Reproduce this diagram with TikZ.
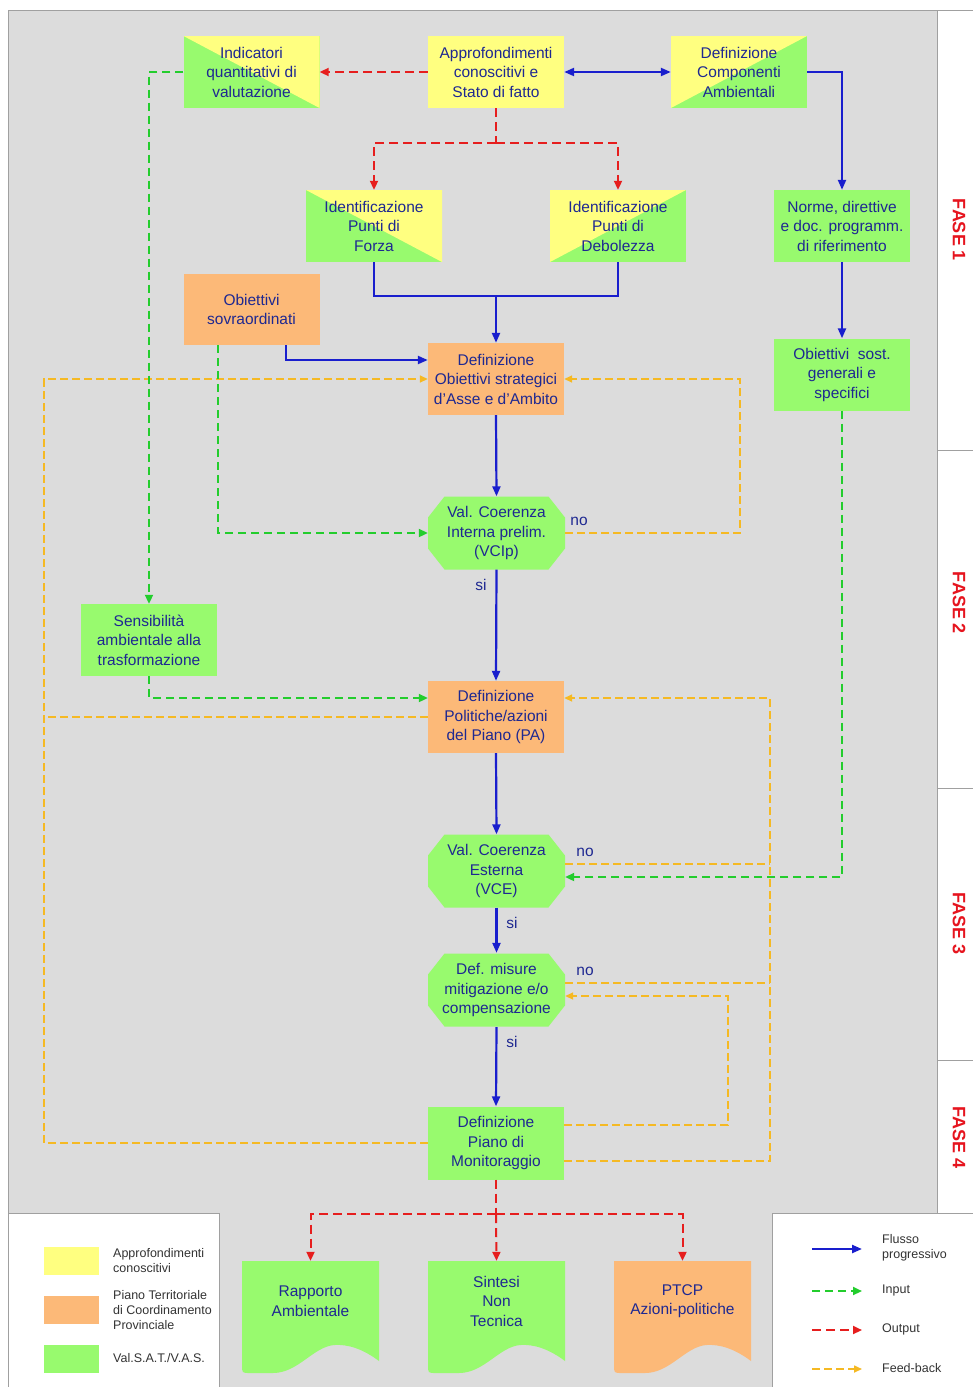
\documentclass[tikz,border=0pt]{standalone}
\usepackage{fontspec}
\setmainfont{Liberation Sans}
\usetikzlibrary{arrows.meta}
\definecolor{cyel}{RGB}{255,255,128}
\definecolor{cgrn}{RGB}{152,250,110}
\definecolor{corg}{RGB}{252,185,120}
\definecolor{cbg}{RGB}{220,220,220}
\definecolor{ctxt}{RGB}{30,40,145}
\definecolor{cblue}{RGB}{25,30,205}
\definecolor{cred}{RGB}{230,30,30}
\definecolor{cgreen}{RGB}{35,205,45}
\definecolor{cfeed}{RGB}{245,185,35}
\definecolor{cfase}{RGB}{230,20,30}
\definecolor{cline}{RGB}{160,160,160}
\newcommand\octshape[2]{\begin{scope}[shift={(#1,#2)}]\fill[cgrn] (-52,-36.5) -- (52,-36.5) -- (68.5,-15.5) -- (68.5,15.5) -- (52,36.5) -- (-52,36.5) -- (-68.5,15.5) -- (-68.5,-15.5) -- cycle;\end{scope}}
\newcommand\docshape[3]{\begin{scope}[shift={(#1,#2)}]\fill[#3] (0,0) -- (137,0) -- (137,100) .. controls (121,88) and (106,83) .. (92,84) .. controls (71,86) and (56,112) .. (31,112) -- (8,112) .. controls (0,112) .. (0,104) -- cycle;\end{scope}}
\tikzset{
  box/.style={rectangle, minimum width=136pt, minimum height=72pt, inner sep=0pt, align=center, font=\fontsize{15.5}{19.5}\selectfont, text=ctxt},
  ybox/.style={box, fill=cyel},
  gbox/.style={box, fill=cgrn},
  obox/.style={box, fill=corg},
  diagA/.style={box, fill=cgrn, path picture={\fill[cyel] (path picture bounding box.north west) -- (path picture bounding box.north east) -- (path picture bounding box.south east) -- cycle;}},
  diagB/.style={box, fill=cgrn, path picture={\fill[cyel] (path picture bounding box.south west) -- (path picture bounding box.north west) -- (path picture bounding box.north east) -- cycle;}},
  octo/.style={box, minimum width=137pt, minimum height=73pt},
  doc/.style={rectangle, minimum width=137pt, minimum height=112pt, inner sep=0pt},
  doctext/.style={align=center, inner sep=0pt, font=\fontsize{15.5}{19.5}\selectfont, text=ctxt},
  lbl/.style={inner sep=0pt, font=\fontsize{15.5}{18}\selectfont, text=ctxt},
  blu/.style={draw=cblue, line width=2.2pt, -{Triangle[length=10pt,width=8pt]}},
  rdd/.style={draw=cred, line width=2pt, dash pattern=on 9pt off 5pt},
  grd/.style={draw=cgreen, line width=2pt, dash pattern=on 8pt off 5pt},
  fbd/.style={draw=cfeed, line width=1.6pt, dash pattern=on 8pt off 4pt},
  rtip/.style={-{Triangle[length=9pt,width=8pt]}},
  ytip/.style={-{Triangle[length=8pt,width=7pt]}},
  fase/.style={rotate=-90, inner sep=0pt, text=cfase, font=\fontsize{18}{20}\selectfont\bfseries},
  sw/.style={rectangle, minimum width=55pt, minimum height=28pt, inner sep=0pt},
  lgt/.style={anchor=west, align=left, inner sep=0pt, text=black!80, font=\fontsize{12.5}{15}\selectfont},
}
\begin{document}
\begin{tikzpicture}[x=1pt,y=-1pt]
\useasboundingbox (0,0) rectangle (973,1387);
% background and frames
\fill[white] (0,0) rectangle (973,1387);
\fill[cbg] (8,10) rectangle (937,1387);
\draw[cline, line width=1pt] (8,1387) -- (8,10) -- (973,10);
\draw[cline, line width=1pt] (937,10) -- (937,1213);
\draw[cline, line width=1pt] (937,450) -- (973,450);
\draw[cline, line width=1pt] (937,788) -- (973,788);
\draw[cline, line width=1pt] (937,1060) -- (973,1060);
\filldraw[fill=white, draw=cline, line width=1pt] (8,1213) rectangle (219,1387);
\filldraw[fill=white, draw=cline, line width=1pt] (772,1213) rectangle (973,1387);
% phase labels
\node[fase] (fase1) at (959,230) {FASE 1};
\node[fase] (fase2) at (959,603) {FASE 2};
\node[fase] (fase3) at (959,923) {FASE 3};
\node[fase] (fase4) at (959,1137) {FASE 4};
% shapes drawn directly
\octshape{496.5}{533}
\octshape{496.5}{871}
\octshape{496.5}{990}
\docshape{242}{1261}{cgrn}
\docshape{428}{1261}{cgrn}
\docshape{614}{1261}{corg}
% nodes
\node[diagA] (indic) at (251.5,72) {Indicatori\\quantitativi di\\valutazione};
\node[ybox] (appro) at (496,72) {Approfondimenti\\conoscitivi e\\Stato di fatto};
\node[diagB] (compo) at (739,72) {Definizione\\Componenti\\Ambientali};
\node[diagA] (forza) at (374,226) {Identificazione\\Punti di\\Forza};
\node[diagB] (debol) at (618,226) {Identificazione\\Punti di\\Debolezza};
\node[gbox] (norme) at (842,226) {Norme, direttive\\e doc. programm.\\di riferimento};
\node[obox, minimum height=71pt] (sovra) at (251.5,309.5) {Obiettivi\\sovraordinati};
\node[obox] (defob) at (496,379) {Definizione\\Obiettivi strategici\\d'Asse e d'Ambito};
\node[gbox] (sost) at (842,374.5) {Obiettivi~ sost.\\generali e\\specifici};
\node[octo] (vcip) at (496.5,533) {Val. Coerenza\\Interna prelim.\\(VCIp)};
\node[gbox] (sens) at (149,640) {Sensibilità\\ambientale alla\\trasformazione};
\node[obox] (defpa) at (496,717) {Definizione\\Politiche/azioni\\del Piano (PA)};
\node[octo] (vce) at (496.5,871) {Val. Coerenza\\Esterna\\(VCE)};
\node[octo, minimum height=74pt] (mitig) at (496.5,990) {Def. misure\\mitigazione e/o\\compensazione};
\node[gbox, minimum height=73pt] (monit) at (496,1143) {Definizione\\Piano di\\Monitoraggio};
\node[doc] (rapp) at (310.5,1317) {};
\node[doc] (sint) at (496.5,1317) {};
\node[doc] (ptcp) at (682.5,1317) {};
\node[doctext] (rappT) at (310.5,1301) {Rapporto\\Ambientale};
\node[doctext] (sintT) at (496.5,1301) {Sintesi\\Non\\Tecnica};
\node[doctext] (ptcpT) at (682.5,1301) {PTCP\\Azioni-politiche};
% labels
\node[lbl] (si1) at (481,585) {si};
\node[lbl] (si2) at (512,923) {si};
\node[lbl] (si3) at (512,1042) {si};
\node[lbl] (no1) at (579,521) {no};
\node[lbl] (no2) at (585,852) {no};
\node[lbl] (no3) at (585,971) {no};
% helper coordinates
\coordinate (j1) at (496,296);
\coordinate (r1) at (496,143);
\coordinate (r2) at (496,1214);
\coordinate (fL) at (44,0);
\coordinate (fR) at (770,0);
\coordinate (fR2) at (728,0);
\coordinate (fV) at (740,0);
\coordinate (sovB) at ([xshift=34.5pt]sovra.south);
\coordinate (sovG) at ([xshift=-33.5pt]sovra.south);
\coordinate (defobIn) at ([yshift=19pt]defob.west);
\coordinate (defpaIn) at ([yshift=19pt]defpa.west);
\coordinate (vceIn) at ([yshift=-6pt]vce.east);
\coordinate (vceNo) at ([yshift=7pt]vce.east);
\coordinate (mitNo) at ([yshift=7pt]mitig.east);
\coordinate (mitIn) at ([yshift=-6pt]mitig.east);
\coordinate (monR1) at ([yshift=-18pt]monit.east);
\coordinate (monR2) at ([yshift=18pt]monit.east);
\coordinate (paR) at ([yshift=19pt]defpa.east);
% feedback (yellow)
\draw[fbd, ytip] (vcip.east) -| (fV |- defob.east) -- (defob.east);
\draw[fbd] (defpa.west) -- (fL |- defpa.west);
\draw[fbd, ytip] (monit.west) -| (fL |- defob.west) -- (defob.west);
\draw[fbd] (vceNo) -- (fR |- vceNo);
\draw[fbd] (mitNo) -- (fR |- mitNo);
\draw[fbd, ytip] (monR1) -| (fR |- paR) -- (paR);
\draw[fbd, ytip] (monR2) -| (fR2 |- mitIn) -- (mitIn);
% input (green)
\draw[grd, rtip] (indic.west) -| (sens.north);
\draw[grd, rtip] (sovG) |- (vcip.west);
\draw[grd, rtip] (sens.south) |- (defpaIn);
\draw[grd, rtip] (sost.south) |- (vceIn);
% output (red)
\draw[rdd, rtip] (appro.west) -- (indic.east);
\draw[rdd] (appro.south) -- (r1);
\draw[rdd, rtip] (r1) -| (forza.north);
\draw[rdd, rtip] (r1) -| (debol.north);
\draw[rdd] (monit.south) -- (r2);
\draw[rdd, rtip] (r2) -| (rapp.north);
\draw[rdd, rtip] (r2) -- (sint.north);
\draw[rdd, rtip] (r2) -| (ptcp.north);
% progressive flow (blue)
\draw[blu, {Triangle[length=10pt,width=8pt]}-{Triangle[length=10pt,width=8pt]}] (appro.east) -- (compo.west);
\draw[blu] (compo.east) -| (norme.north);
\draw[blu] (norme.south) -- (sost.north);
\draw[draw=cblue, line width=2.2pt] (forza.south) |- (j1) -| (debol.south);
\draw[blu] (j1) -- (defob.north);
\draw[blu] (sovB) |- (defobIn);
\draw[blu] (defob.south) -- (vcip.north);
\draw[blu] (vcip.south) -- (defpa.north);
\draw[blu] (defpa.south) -- (vce.north);
\draw[blu] (vce.south) -- (mitig.north);
\draw[blu] (mitig.south) -- (monit.north);
% legend left
\node[sw, fill=cyel] (lg1) at (71.5,1261) {};
\node[sw, fill=corg] (lg2) at (71.5,1309.5) {};
\node[sw, fill=cgrn] (lg3) at (71.5,1359) {};
\node[lgt] (lt1) at (113,1260.5) {Approfondimenti\\conoscitivi};
\node[lgt] (lt2) at (113,1310) {Piano Territoriale\\di Coordinamento\\Provinciale};
\node[lgt] (lt3) at (113,1358) {Val.S.A.T./V.A.S.};
% legend right
\coordinate (la1) at (812,1249); \coordinate (lb1) at (862,1249);
\coordinate (la2) at (812,1291); \coordinate (lb2) at (862,1291);
\coordinate (la3) at (812,1330); \coordinate (lb3) at (862,1330);
\coordinate (la4) at (812,1369); \coordinate (lb4) at (862,1369);
\draw[blu] (la1) -- (lb1);
\draw[grd, rtip] (la2) -- (lb2);
\draw[rdd, rtip] (la3) -- (lb3);
\draw[fbd, ytip] (la4) -- (lb4);
\node[lgt] (lr1) at (882,1248) {Flusso\\progressivo};
\node[lgt] (lr2) at (882,1290) {Input};
\node[lgt] (lr3) at (882,1329) {Output};
\node[lgt] (lr4) at (882,1368) {Feed-back};
\end{tikzpicture}
\end{document}
